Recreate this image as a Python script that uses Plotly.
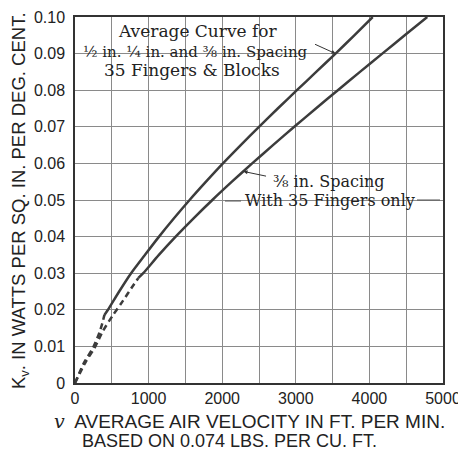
import plotly.graph_objects as go

# Upper curve: average for 1/2, 1/4, 3/8 in. spacing, 35 fingers & blocks
upper_dash_v = [0, 129, 242, 344, 400]
upper_dash_k = [0, 0.0058, 0.0095, 0.0145, 0.0186]
upper_v = [400, 448, 600, 762, 950, 1142, 1345, 1557, 1780, 2010, 2252, 2500, 2755, 3015, 3277, 3540, 3795, 4045]
upper_k = [0.0186, 0.020, 0.025, 0.030, 0.035, 0.040, 0.045, 0.050, 0.055, 0.060, 0.065, 0.070, 0.075, 0.080, 0.085, 0.090, 0.095, 0.100]

# Lower curve: 3/8 in. spacing with 35 fingers only
lower_dash_v = [0, 152, 264, 377, 511, 646, 802, 861]
lower_dash_k = [0, 0.006, 0.0095, 0.0141, 0.0184, 0.0223, 0.027, 0.0287]
lower_v = [861, 927, 1140, 1368, 1611, 1866, 2132, 2407, 2690, 2979, 3273, 3571, 3872, 4175, 4480, 4786]
lower_k = [0.0287, 0.030, 0.035, 0.040, 0.045, 0.050, 0.055, 0.060, 0.065, 0.070, 0.075, 0.080, 0.085, 0.090, 0.095, 0.100]

x_ticks = [0, 1000, 2000, 3000, 4000, 5000]
y_ticks = [0, 0.01, 0.02, 0.03, 0.04, 0.05, 0.06, 0.07, 0.08, 0.09, 0.10]
y_tick_text = ["0", "0.01", "0.02", "0.03", "0.04", "0.05", "0.06", "0.07", "0.08", "0.09", "0.10"]

CURVE = "#3c3c3c"
GRID = "#8a8a8a"
INK = "#222"
fig = go.Figure()
for xs, ys, dash in [(upper_dash_v, upper_dash_k, "6px,4px"), (upper_v, upper_k, "solid"),
                     (lower_dash_v, lower_dash_k, "6px,4px"), (lower_v, lower_k, "solid")]:
    fig.add_trace(go.Scatter(x=xs, y=ys, mode="lines", line=dict(color=CURVE, width=2.5, dash=dash,
                                                                  shape="spline", smoothing=0.8),
                             showlegend=False, hoverinfo="skip"))

serif = "DejaVu Serif"
sans = "Liberation Sans"

# plot area in page pixels: x 75..443, y 17..383 (page has an 8px body offset)
def px(xp):
    return (xp - 75) / 368

def py(yp):
    return (383 - yp) / 366

def label(text, x, y, size, family=serif, **kw):
    fig.add_annotation(text=text, xref="paper", yref="paper", x=px(x), y=py(y), showarrow=False,
                       xanchor="center", yanchor="middle",
                       font=dict(family=family, size=size, color=INK), **kw)

label("Average Curve for", 198, 31.5, 17)
label("½ in. ¼ in. and ⅜ in. Spacing", 195, 51.5, 15)
label("35 Fingers & Blocks", 192, 70, 17)
label("⅜ in. Spacing", 329, 182, 16)
label("With 35 Fingers only", 330, 200, 16)

# arrows
fig.add_annotation(x=3540, y=0.090, ax=-22, ay=-10, text="", showarrow=True, arrowhead=2,
                   arrowsize=0.8, arrowwidth=1, arrowcolor="#333")
fig.add_annotation(x=2290, y=0.0578, ax=24, ay=5, text="", showarrow=True, arrowhead=2,
                   arrowsize=0.8, arrowwidth=1, arrowcolor="#333")
# leader strokes beside "With 35 Fingers only"
fig.add_shape(type="line", xref="paper", yref="paper", x0=px(225), x1=px(241),
              y0=py(201), y1=py(201), line=dict(color="#555", width=1))
fig.add_shape(type="line", xref="paper", yref="paper", x0=px(417), x1=px(440),
              y0=py(200), y1=py(200), line=dict(color="#555", width=1))

label("K<sub>v</sub>. IN WATTS PER SQ. IN. PER DEG. CENT.", 20, 201, 18.5, family=sans, textangle=-90)
label("<span style='font-family:DejaVu Serif'><i>v</i></span>  AVERAGE AIR VELOCITY IN FT. PER MIN.",
      249, 421, 19, family=sans)
label("BASED ON 0.074 LBS. PER CU. FT.", 229, 441, 18, family=sans)

fig.update_xaxes(range=[0, 5000], tickmode="linear", tick0=0, dtick=1000,
                 showgrid=True, gridcolor=GRID, gridwidth=1,
                 minor=dict(tickmode="linear", tick0=0, dtick=500, showgrid=True, gridcolor=GRID, gridwidth=1),
                 showline=True, linecolor="#333", linewidth=1.5, mirror=True, zeroline=False,
                 ticks="", automargin=False, tickfont=dict(family=sans, size=16, color=INK))
fig.update_yaxes(range=[0, 0.10], tickvals=y_ticks, ticktext=y_tick_text,
                 showgrid=True, gridcolor=GRID, gridwidth=1,
                 showline=True, linecolor="#333", linewidth=1.5, mirror=True, zeroline=False,
                 ticks="", automargin=False, ticklabelstandoff=5,
                 tickfont=dict(family=sans, size=16, color=INK))
fig.update_layout(width=458, height=445, margin=dict(l=67, r=23, t=9, b=70),
                  plot_bgcolor="white", paper_bgcolor="white")
fig.write_html("out.html")
